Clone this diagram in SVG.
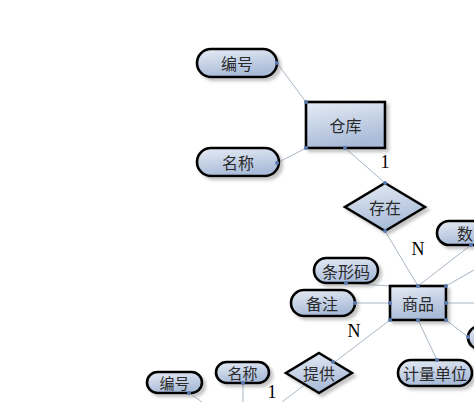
<svg xmlns="http://www.w3.org/2000/svg" width="474" height="402" viewBox="0 0 474 402">
<defs>
<linearGradient id="g" x1="0" y1="0" x2="0.3" y2="1">
<stop offset="0" stop-color="#e6ecf5"/>
<stop offset="1" stop-color="#a9bbd8"/>
</linearGradient>
<filter id="sh" x="-20%" y="-20%" width="150%" height="160%">
<feDropShadow dx="3" dy="3" stdDeviation="1.8" flood-color="#808080" flood-opacity="0.45"/>
</filter>
</defs>
<style>
.n{fill:url(#g);stroke:#000;stroke-width:2.6;filter:url(#sh)}
.t{font-family:"Noto Sans CJK SC","Noto Sans",sans-serif;font-size:16px;fill:#2a2a2a;text-anchor:middle;dominant-baseline:central}
.ts{font-size:15px}
.c line{stroke:#a9b6c6;stroke-width:1}
.d{fill:#5a7ab0}
.l{font-family:"Liberation Serif",serif;font-size:18px;fill:#000;text-anchor:middle}
</style>
<rect width="474" height="402" fill="#fff"/>
<g class="c" id="connectors">
<line x1="277" y1="63" x2="306" y2="102"/>
<line x1="277" y1="163" x2="306" y2="148"/>
<line x1="345" y1="148" x2="385" y2="183"/>
<line x1="385" y1="231" x2="418" y2="286"/>
<line x1="418" y1="286" x2="471" y2="245"/>
<line x1="446" y1="286" x2="474" y2="270"/>
<line x1="446" y1="303" x2="474" y2="303"/>
<line x1="446" y1="320" x2="468" y2="337"/>
<line x1="346" y1="283" x2="390" y2="286"/>
<line x1="355" y1="303" x2="390" y2="303"/>
<line x1="418" y1="320" x2="437" y2="360"/>
<line x1="390" y1="320" x2="282" y2="402"/>
<line x1="243" y1="383" x2="243" y2="402"/>
<line x1="189" y1="393" x2="202" y2="402"/>
</g>
<g id="warehouse-id"><rect class="n" x="197" y="49" width="80" height="28" rx="14"/><text class="t" x="237" y="63">编号</text></g>
<g id="warehouse-name"><rect class="n" x="197" y="148" width="82" height="28" rx="14"/><text class="t" x="238" y="162">名称</text></g>
<g id="warehouse"><rect class="n" x="306" y="102" width="79" height="46"/><text class="t" x="345.5" y="125">仓库</text></g>
<g id="store"><polygon class="n" points="385,183 425,207 385,231 345,207"/><text class="t" x="385" y="207">存在</text></g>
<g id="quantity"><rect class="n" x="437" y="221" width="60" height="24" rx="12"/><text class="t" x="465" y="233">数</text></g>
<g id="barcode"><rect class="n" x="314" y="258" width="64" height="25" rx="12.5"/><text class="t" x="346" y="270.5">条形码</text></g>
<g id="note"><rect class="n" x="291" y="290" width="64" height="26" rx="13"/><text class="t" x="322" y="303">备注</text></g>
<g id="goods"><rect class="n" x="390" y="286" width="56" height="34"/><text class="t" x="418" y="303">商品</text></g>
<g id="right-attr"><rect class="n" x="468" y="326" width="60" height="23" rx="11.5"/></g>
<g id="unit"><rect class="n" x="398" y="360" width="74" height="26" rx="13"/><text class="t" x="435" y="373">计量单位</text></g>
<g id="supply"><polygon class="n" points="319,353 352,373 319,393 286,373"/><text class="t" x="319" y="373">提供</text></g>
<g id="supplier-name"><rect class="n" x="216" y="362" width="53" height="21" rx="10.5"/><text class="t ts" x="242.5" y="372.5">名称</text></g>
<g id="supplier-id"><rect class="n" x="147" y="372" width="55" height="21" rx="10.5"/><text class="t ts" x="174.5" y="382.5">编号</text></g>
<g id="dots">
<circle class="d" cx="277" cy="63" r="2"/>
<circle class="d" cx="306" cy="102" r="2"/>
<circle class="d" cx="277" cy="163" r="2"/>
<circle class="d" cx="306" cy="148" r="2"/>
<circle class="d" cx="345" cy="148" r="2"/>
<circle class="d" cx="385" cy="183" r="2"/>
<circle class="d" cx="385" cy="231" r="2"/>
<circle class="d" cx="418" cy="286" r="2"/>
<circle class="d" cx="446" cy="286" r="2"/>
<circle class="d" cx="446" cy="303" r="2"/>
<circle class="d" cx="446" cy="320" r="2"/>
<circle class="d" cx="390" cy="303" r="2"/>
<circle class="d" cx="390" cy="320" r="2"/>
<circle class="d" cx="418" cy="320" r="2"/>
<circle class="d" cx="471" cy="245" r="2"/>
<circle class="d" cx="468" cy="337" r="2"/>
<circle class="d" cx="346" cy="283" r="2"/>
<circle class="d" cx="355" cy="303" r="2"/>
<circle class="d" cx="437" cy="360" r="2"/>
<circle class="d" cx="333" cy="362" r="2"/>
<circle class="d" cx="243" cy="383" r="2"/>
<circle class="d" cx="189" cy="393" r="2"/>
</g>
<g id="labels">
<text class="l" x="385" y="168">1</text>
<text class="l" x="418" y="255">N</text>
<text class="l" x="354" y="337">N</text>
<text class="l" x="272" y="398">1</text>
</g>
</svg>
